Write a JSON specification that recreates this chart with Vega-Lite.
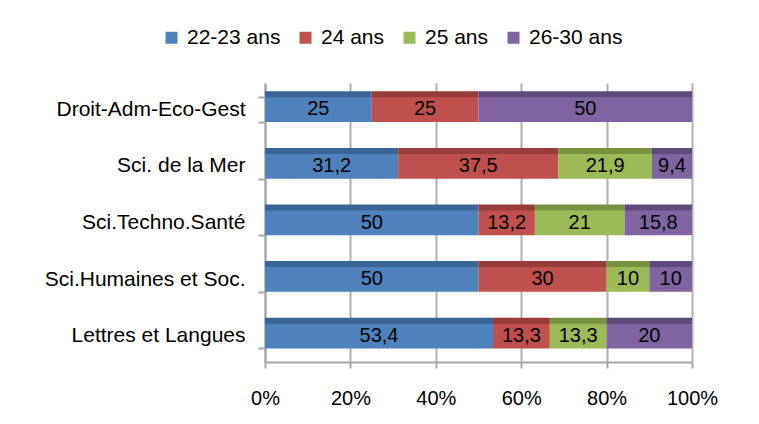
{
  "$schema": "https://vega.github.io/schema/vega-lite/v6.json",
  "width": 427,
  "height": 279,
  "autosize": {"type": "none"},
  "padding": {"left": 265, "top": 83, "right": 67, "bottom": 62},
  "background": "white",
  "data": {
    "values": [
      {"filiere": "Droit-Adm-Eco-Gest", "age": "22-23 ans", "ordre": 1, "valeur": 25},
      {"filiere": "Droit-Adm-Eco-Gest", "age": "24 ans", "ordre": 2, "valeur": 25},
      {"filiere": "Droit-Adm-Eco-Gest", "age": "25 ans", "ordre": 3, "valeur": 0},
      {"filiere": "Droit-Adm-Eco-Gest", "age": "26-30 ans", "ordre": 4, "valeur": 50},
      {"filiere": "Sci. de la Mer", "age": "22-23 ans", "ordre": 1, "valeur": 31.2},
      {"filiere": "Sci. de la Mer", "age": "24 ans", "ordre": 2, "valeur": 37.5},
      {"filiere": "Sci. de la Mer", "age": "25 ans", "ordre": 3, "valeur": 21.9},
      {"filiere": "Sci. de la Mer", "age": "26-30 ans", "ordre": 4, "valeur": 9.4},
      {"filiere": "Sci.Techno.Santé", "age": "22-23 ans", "ordre": 1, "valeur": 50},
      {"filiere": "Sci.Techno.Santé", "age": "24 ans", "ordre": 2, "valeur": 13.2},
      {"filiere": "Sci.Techno.Santé", "age": "25 ans", "ordre": 3, "valeur": 21},
      {"filiere": "Sci.Techno.Santé", "age": "26-30 ans", "ordre": 4, "valeur": 15.8},
      {"filiere": "Sci.Humaines et Soc.", "age": "22-23 ans", "ordre": 1, "valeur": 50},
      {"filiere": "Sci.Humaines et Soc.", "age": "24 ans", "ordre": 2, "valeur": 30},
      {"filiere": "Sci.Humaines et Soc.", "age": "25 ans", "ordre": 3, "valeur": 10},
      {"filiere": "Sci.Humaines et Soc.", "age": "26-30 ans", "ordre": 4, "valeur": 10},
      {"filiere": "Lettres et Langues", "age": "22-23 ans", "ordre": 1, "valeur": 53.4},
      {"filiere": "Lettres et Langues", "age": "24 ans", "ordre": 2, "valeur": 13.3},
      {"filiere": "Lettres et Langues", "age": "25 ans", "ordre": 3, "valeur": 13.3},
      {"filiere": "Lettres et Langues", "age": "26-30 ans", "ordre": 4, "valeur": 20}
    ]
  },
  "transform": [
    {"stack": "valeur", "groupby": ["filiere"], "sort": [{"field": "ordre", "order": "ascending"}], "offset": "normalize", "as": ["x0", "x1"]},
    {"calculate": "(datum.x0 + datum.x1) / 2", "as": "xm"}
  ],
  "encoding": {
    "y": {
      "field": "filiere",
      "type": "nominal",
      "sort": ["Droit-Adm-Eco-Gest", "Sci. de la Mer", "Sci.Techno.Santé", "Sci.Humaines et Soc.", "Lettres et Langues"],
      "scale": {"paddingInner": 0.55, "paddingOuter": 0.24},
      "axis": {
        "title": null,
        "domainColor": "#A6A6A6",
        "domainWidth": 2,
        "tickColor": "#A6A6A6",
        "tickWidth": 2,
        "tickSize": 7,
        "tickBand": "extent",
        "labelFontSize": 21,
        "labelFont": "Liberation Sans",
        "labelColor": "#000000",
        "labelPadding": 13,
        "labelLimit": 300
      }
    }
  },
  "layer": [
    {
      "mark": {"type": "bar"},
      "encoding": {
        "x": {
          "field": "x0",
          "type": "quantitative",
          "scale": {"domain": [0, 1], "nice": false},
          "axis": {
            "title": null,
            "format": "%",
            "values": [0, 0.2, 0.4, 0.6, 0.8, 1],
            "grid": true,
            "gridColor": "#B0B0B0",
            "gridWidth": 2,
            "domainColor": "#A6A6A6",
            "domainWidth": 2,
            "tickColor": "#A6A6A6",
            "tickWidth": 2,
            "tickSize": 6,
            "labelFontSize": 20,
            "labelFont": "Liberation Sans",
            "labelColor": "#000000",
            "labelPadding": 20,
            "labelFlush": false
          }
        },
        "x2": {"field": "x1"},
        "color": {
          "field": "age",
          "type": "nominal",
          "sort": ["22-23 ans", "24 ans", "25 ans", "26-30 ans"],
          "scale": {
            "domain": ["22-23 ans", "24 ans", "25 ans", "26-30 ans"],
            "range": ["#4F81BD", "#C0504D", "#9BBB59", "#8064A2"]
          },
          "legend": {
            "title": null,
            "orient": "none",
            "direction": "horizontal",
            "legendX": -104,
            "legendY": -56,
            "symbolType": "square",
            "symbolSize": 144,
            "symbolStrokeWidth": 0,
            "labelFontSize": 21,
            "labelFont": "Liberation Sans",
            "labelColor": "#000000",
            "labelOffset": 5,
            "columnPadding": 14
          }
        }
      }
    },
    {
      "mark": {"type": "bar", "height": 6, "yOffset": -15},
      "encoding": {
        "x": {"field": "x0", "type": "quantitative"},
        "x2": {"field": "x1"},
        "fill": {
          "field": "age",
          "type": "nominal",
          "scale": {
            "domain": ["22-23 ans", "24 ans", "25 ans", "26-30 ans"],
            "range": ["#3B6496", "#963C3A", "#76923F", "#5F4A7C"]
          },
          "legend": null
        }
      }
    },
    {
      "transform": [{"filter": "datum.valeur > 0"}],
      "mark": {"type": "text", "fontSize": 20, "font": "Liberation Sans", "color": "#000000", "baseline": "middle", "align": "center"},
      "encoding": {
        "x": {"field": "xm", "type": "quantitative"},
        "text": {"field": "valeur", "type": "quantitative", "format": ".3~r"}
      }
    }
  ],
  "resolve": {"scale": {"fill": "independent"}},
  "config": {
    "view": {"stroke": null},
    "locale": {
      "number": {"decimal": ",", "thousands": " ", "grouping": [3], "currency": ["", " €"]}
    }
  }
}
